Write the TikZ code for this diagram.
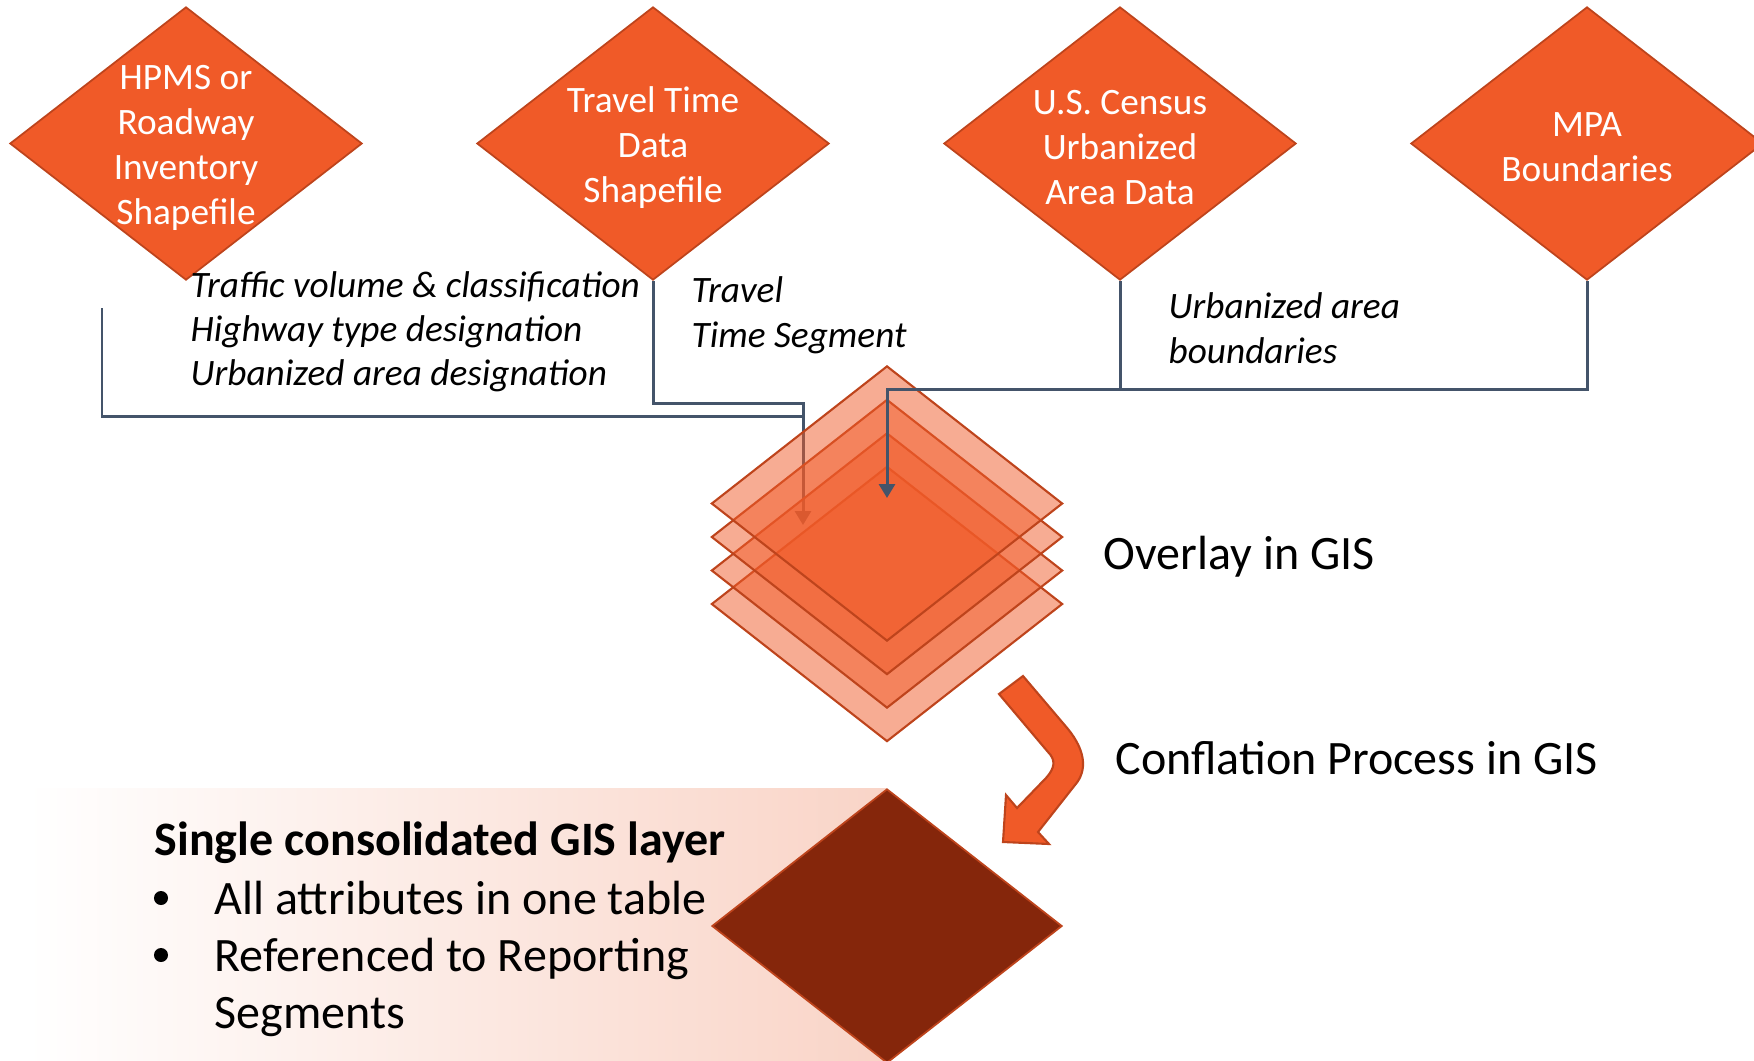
\documentclass[tikz,border=0pt]{standalone}
\usepackage{fontspec}
\setmainfont{Carlito}
\usetikzlibrary{shapes.geometric,arrows.meta}
\definecolor{org}{RGB}{240,90,40}
\definecolor{orgline}{RGB}{190,68,28}
\definecolor{darkred}{RGB}{133,38,11}
\definecolor{slate}{RGB}{68,84,106}
\definecolor{panelR}{RGB}{249,212,199}
\begin{document}
\begin{tikzpicture}[x=0.01cm,y=-0.01cm,
  srcdia/.style={diamond, draw=orgline, line width=0.5pt, fill=org, minimum width=3.52cm, minimum height=2.73cm, inner sep=0pt},
  srctext/.style={text=white, align=center, font=\fontsize{10.6}{12.8}\selectfont},
  ovl/.style={diamond, draw=orgline, line width=0.6pt, fill=org, fill opacity=0.5, minimum width=3.51cm, minimum height=2.75cm, inner sep=0pt},
  conn/.style={draw=slate, line width=0.85pt},
  arrowtip/.style={-{Triangle[width=1.6mm,length=1.4mm]}},
  lab/.style={font=\fontsize{10.6}{12.8}\selectfont\itshape, anchor=base west, inner sep=0pt},
  bigtext/.style={font=\fontsize{13.65}{16}\selectfont, anchor=base west, inner sep=0pt},
  bullet/.style={circle, fill=black, minimum size=0.14cm, inner sep=0pt}
]
\useasboundingbox (0,0) rectangle (1754,1060);
\clip (0,0) rectangle (1754,1060);

% source diamonds
\node[srcdia] (hpms) at (186,143.5) {};
\node[srctext] (hpmsT) at (186,148) {HPMS or\\Roadway\\Inventory\\Shapefile};
\node[srcdia] (travel) at (653,143.5) {};
\node[srctext] (travelT) at (653,147.5) {Travel Time\\Data\\Shapefile};
\node[srcdia] (census) at (1120,143.5) {};
\node[srctext] (censusT) at (1120,147.5) {U.S. Census\\Urbanized\\Area Data};
\node[srcdia] (mpa) at (1587,143.5) {};
\node[srctext] (mpaT) at (1587,147.5) {MPA\\Boundaries};

% connector coordinates
\coordinate (hpmsFoot) at (102,308);
\coordinate (jT) at (803,403);
\coordinate (jA) at (803,416);
\coordinate (tipA) at (803,525);
\coordinate (jC) at (887,389);
\coordinate (tipC) at (887,498);

\draw[conn,arrowtip] (hpmsFoot) |- (jA) -- (tipA);
\draw[conn] (travel.south) |- (jT) -- (jA);

% overlay stack
\foreach \i in {3,2,1,0} {
  \node[ovl] (ov\i) at (887,503.5+33.5*\i) {};
}

\draw[conn,arrowtip] (mpa.south) |- (jC) -- (tipC);
\draw[conn] (census.south) -- (census.south |- jC);

% labels
\node[lab] (l1a) at (190,297) {Traffic volume \& classification};
\node[lab] (l1b) at (190,341) {Highway type designation};
\node[lab] (l1c) at (190,385) {Urbanized area designation};
\node[lab] (l2a) at (691,302) {Travel};
\node[lab] (l2b) at (691,347) {Time Segment};
\node[lab] (l3a) at (1168,318) {Urbanized area};
\node[lab] (l3b) at (1168,363) {boundaries};

\node[bigtext] (overlayT) at (1103,569) {Overlay in GIS};
\node[bigtext] (conflT) at (1115,774) {Conflation Process in GIS};

% curved block arrow
\filldraw[fill=org, draw=orgline, line width=0.6pt, line join=miter]
  (999,694) -- (1023,676) -- (1068,729) .. controls (1085,750) and (1088,770) .. (1075,785)
  -- (1038,832) -- (1049,844) -- (1003,842) -- (1006,795) -- (1017,808)
  -- (1046,778) .. controls (1055,768) and (1056,760) .. (1048,752) -- cycle;

% result panel
\shade[left color=white, right color=panelR] (27,788) rectangle (887,1060);
\node[diamond, fill=darkred, draw=orgline, line width=0.5pt, minimum width=3.5cm, minimum height=2.74cm, inner sep=0pt] (final) at (887,926) {};

\node[bigtext, font=\fontsize{13.65}{16}\selectfont\bfseries] (title) at (154,855) {Single consolidated GIS layer};
\node[bullet] (b1) at (161,898) {};
\node[bullet] (b2) at (161,955) {};
\node[bigtext] (t1) at (214,914) {All attributes in one table};
\node[bigtext] (t2) at (214,971) {Referenced to Reporting};
\node[bigtext] (t3) at (214,1028) {Segments};
\end{tikzpicture}
\end{document}
